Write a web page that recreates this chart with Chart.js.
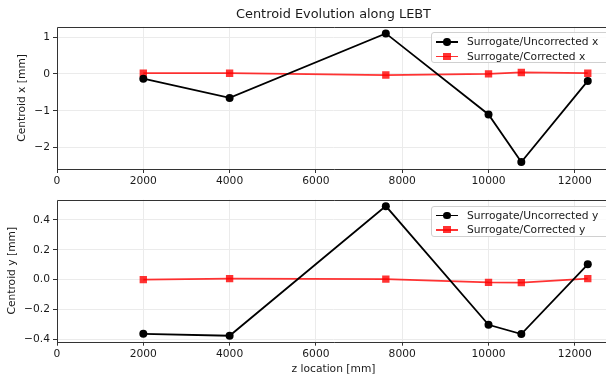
<!DOCTYPE html>
<html>
<head>
<meta charset="utf-8">
<script src="https://cdn.jsdelivr.net/npm/chart.js@4.4.1/dist/chart.umd.min.js"></script>
<style>
    html, body { margin: 0; padding: 0; background: #fff; overflow: hidden; }
    #wrap { width: 606px; height: 376px; overflow: hidden; position: relative; font-family: 'DejaVu Sans', sans-serif; }
    .panel { position: absolute; left: 0; }
    #chart-x { top: 0; }
    #chart-y { top: 190px; }
    .legend {
        position: absolute; left: 431px; width: 180px; height: 31px;
        border: 1px solid #d0d0d0; border-radius: 3px; background: rgba(255,255,255,0.8);
        font-size: 10.7px; color: #1a1a1a; box-sizing: border-box;
    }
    .legend .row { position: absolute; left: 0; height: 14px; line-height: 14px; white-space: nowrap; }
    .legend .line { position: absolute; left: 4px; top: 6px; width: 22px; height: 1.8px; }
    .legend .mark { position: absolute; }
    .legend .label { position: absolute; left: 35px; top: 0; }
</style>
</head>
<body>
<div id="wrap">
<canvas id="chart-x" class="panel" width="618" height="190"></canvas>
<canvas id="chart-y" class="panel" width="618" height="186"></canvas>
<div id="legend-x" class="legend" style="top:32px"></div>
<div id="legend-y" class="legend" style="top:205.5px"></div>
</div>
<script>
// z positions of the measurement points [mm]
const zLocations = [2000, 4000, 7620, 10000, 10760, 12300];

// centroid x [mm]
const uncorrectedX = [-0.13, -0.65, 1.10, -1.10, -2.39, -0.19];
const correctedX   = [0.02, 0.02, -0.03, 0.00, 0.04, 0.02];

// centroid y [mm]
const uncorrectedY = [-0.362, -0.375, 0.492, -0.302, -0.364, 0.103];
const correctedY   = [0.000, 0.007, 0.004, -0.018, -0.020, 0.007];

const zTicks = [0, 2000, 4000, 6000, 8000, 10000, 12000];

const BLACK = '#000000';
const RED = 'rgba(255,0,0,0.8)';
const TEXT = '#1a1a1a';
const FONT = { family: "'DejaVu Sans', sans-serif", size: 10.7 };

// matplotlib style minus sign
function mplNum(v, digits) {
    const s = v.toFixed(digits);
    return s.replace('-', '\u2212');
}

// draws left, top and bottom spines (right one is cut off in the original)
const framePlugin = {
    id: 'frame',
    afterDatasetsDraw(chart) {
        const { ctx, chartArea: a } = chart;
        const l = Math.round(a.left) + 0.5, t = Math.round(a.top) + 0.5, b = Math.round(a.bottom) + 0.5;
        ctx.save();
        ctx.strokeStyle = '#333';
        ctx.lineWidth = 1;
        ctx.beginPath();
        ctx.moveTo(a.right + 2, t);
        ctx.lineTo(l, t);
        ctx.lineTo(l, b);
        ctx.lineTo(a.right + 2, b);
        ctx.stroke();
        ctx.restore();
    }
};

function makeDatasets(unc, cor, axisName) {
    return [
        {
            label: 'Surrogate/Uncorrected ' + axisName,
            data: zLocations.map((z, i) => ({ x: z, y: unc[i] })),
            borderColor: BLACK,
            backgroundColor: BLACK,
            borderWidth: 1.8,
            pointStyle: 'circle',
            pointRadius: 4,
            pointBorderWidth: 0,
            tension: 0
        },
        {
            label: 'Surrogate/Corrected ' + axisName,
            data: zLocations.map((z, i) => ({ x: z, y: cor[i] })),
            borderColor: RED,
            backgroundColor: RED,
            borderWidth: 1.8,
            pointStyle: 'rect',
            pointRadius: 5.2,
            pointBorderWidth: 0,
            tension: 0
        }
    ];
}

function makeOptions(cfg) {
    return {
        responsive: false,
        animation: false,
        layout: { padding: { top: cfg.padTop, right: 8, left: 0, bottom: 0 } },
        plugins: {
            legend: { display: false },
            tooltip: { enabled: false },
            title: cfg.title ? {
                display: true,
                fullSize: false,
                text: cfg.title,
                color: TEXT,
                font: { family: FONT.family, size: 12.9, weight: 'normal' },
                padding: { top: 7.3, bottom: 4 }
            } : { display: false }
        },
        scales: {
            x: {
                type: 'linear',
                min: 0,
                max: 12815,
                afterBuildTicks: (scale) => { scale.ticks = zTicks.map(v => ({ value: v })); },
                afterFit: (scale) => {
                    scale.height = cfg.xHeight;
                    scale.paddingLeft = 0;
                    scale.paddingRight = 0;
                },
                grid: { color: '#ebebeb', tickColor: '#333', tickLength: 4, lineWidth: 1 },
                border: { display: false },
                ticks: { color: TEXT, font: FONT, padding: 2, maxRotation: 0, callback: v => String(v) },
                title: cfg.xTitle ? {
                    display: true, text: cfg.xTitle, color: TEXT, font: FONT,
                    padding: { top: 0, bottom: 0 }
                } : { display: false }
            },
            y: {
                min: cfg.yMin,
                max: cfg.yMax,
                afterBuildTicks: (scale) => { scale.ticks = cfg.yTicks.map(v => ({ value: v })); },
                afterFit: (scale) => { scale.width = 57; },
                grid: { color: '#ebebeb', tickColor: '#333', tickLength: 4, lineWidth: 1 },
                border: { display: false },
                ticks: { color: TEXT, font: FONT, padding: 3, callback: v => mplNum(v, cfg.yDigits) },
                title: {
                    display: true, text: cfg.yTitle, color: TEXT, font: FONT,
                    padding: { top: cfg.yTitlePad, bottom: 0 }
                }
            }
        }
    };
}

new Chart(document.getElementById('chart-x'), {
    type: 'line',
    data: { datasets: makeDatasets(uncorrectedX, correctedX, 'x') },
    options: makeOptions({
        title: 'Centroid Evolution along LEBT',
        padTop: 0,
        xHeight: 21,
        yMin: -2.58, yMax: 1.28,
        yTicks: [-2, -1, 0, 1], yDigits: 0,
        yTitle: 'Centroid x [mm]', yTitlePad: 16.3
    }),
    plugins: [framePlugin]
});

new Chart(document.getElementById('chart-y'), {
    type: 'line',
    data: { datasets: makeDatasets(uncorrectedY, correctedY, 'y') },
    options: makeOptions({
        title: null,
        padTop: 9.7,
        xHeight: 34.3,
        xTitle: 'z location [mm]',
        yMin: -0.415, yMax: 0.535,
        yTicks: [-0.4, -0.2, 0, 0.2, 0.4], yDigits: 1,
        yTitle: 'Centroid y [mm]', yTitlePad: 5.6
    }),
    plugins: [framePlugin]
});

// HTML legend, placed in the upper right of each axes
function buildLegend(id, axisName) {
    const entries = [
        { label: 'Surrogate/Uncorrected ' + axisName, color: BLACK, round: true },
        { label: 'Surrogate/Corrected ' + axisName, color: RED, round: false }
    ];
    const box = document.getElementById(id);
    entries.forEach((e, i) => {
        const row = document.createElement('div');
        row.className = 'row';
        row.style.top = (2 + i * 14.5) + 'px';
        const line = document.createElement('div');
        line.className = 'line';
        line.style.background = e.color;
        const mark = document.createElement('div');
        mark.className = 'mark';
        const size = e.round ? 7.6 : 7.2;
        mark.style.width = size + 'px';
        mark.style.height = size + 'px';
        mark.style.left = (15 - size / 2) + 'px';
        mark.style.top = (6.9 - size / 2) + 'px';
        mark.style.background = e.color;
        if (e.round) mark.style.borderRadius = '50%';
        const label = document.createElement('div');
        label.className = 'label';
        label.innerText = e.label;
        row.appendChild(line);
        row.appendChild(mark);
        row.appendChild(label);
        box.appendChild(row);
    });
}
buildLegend('legend-x', 'x');
buildLegend('legend-y', 'y');
</script>
</body>
</html>
